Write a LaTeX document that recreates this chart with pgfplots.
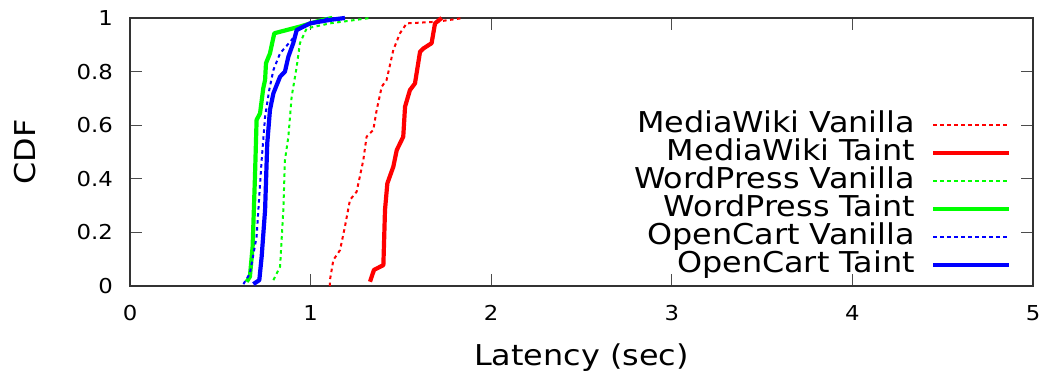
\documentclass[border=0pt]{standalone}
\usepackage{fontspec}
\setmainfont[FakeStretch=1.11]{DejaVu Sans}
\usepackage{pgfplots}
\pgfplotsset{compat=1.18}
\definecolor{gred}{RGB}{255,0,0}
\definecolor{ggreen}{RGB}{0,255,0}
\definecolor{gblue}{RGB}{0,0,255}
\begin{document}
\begin{tikzpicture}
\begin{axis}[
  scale only axis, width=903bp, height=268bp,
  xmin=0, xmax=5, ymin=0, ymax=1,
  xtick={0,1,2,3,4,5}, ytick={0,0.2,0.4,0.6,0.8,1},
  /pgf/number format/assume math mode=true,
  tick label style={font=\fontsize{20.6}{24}\selectfont, inner sep=0pt},
  xticklabel style={anchor=north, yshift=-19bp},
  yticklabel style={anchor=east, xshift=-17bp},
  major tick length=12bp,
  tick style={black!70, line width=1bp},
  axis line style={black!80, line width=1.3bp},
  every axis x label/.style={at={(axis description cs:0.5,-0.2985)}, anchor=base},
  every axis y label/.style={at={(axis description cs:-0.1052,0.5)}, anchor=base, rotate=90},
  label style={font=\fontsize{28.8}{30}\selectfont},
  xlabel={Latency (sec)}, ylabel={CDF},
  clip=false,
  legend plot pos=right,
  legend cell align=right,
  legend image code/.code={\draw[#1] (0bp,0bp) -- (76bp,0bp);},
  legend style={draw=none, fill=none, at={(rel axis cs:0.976,0.653)}, anchor=north east,
    font=\fontsize{28.8}{28}\selectfont, column sep=16bp, inner sep=0pt,
    nodes={inner sep=0pt, text height=21bp, text depth=7bp}},
  every axis plot/.append style={line join=round},
]
% MediaWiki Vanilla
\addplot[gred, line width=2bp, dash pattern=on 3.5bp off 3.5bp] coordinates {
(1.107,0.0) (1.107,0.022) (1.126,0.097) (1.163,0.134) (1.19,0.221) (1.218,0.321) (1.255,0.352)
(1.292,0.47) (1.31,0.557) (1.347,0.582) (1.366,0.657) (1.394,0.744) (1.421,0.769)
(1.458,0.881) (1.495,0.943) (1.532,0.98) (1.698,0.986) (1.846,1.0)};
\addlegendentry{MediaWiki Vanilla}
% MediaWiki Taint
\addplot[gred, line width=4.2bp] coordinates {
(1.329,0.016) (1.351,0.06) (1.403,0.078) (1.412,0.284) (1.425,0.383) (1.458,0.445)
(1.477,0.507) (1.513,0.557) (1.523,0.669) (1.55,0.731) (1.578,0.756) (1.606,0.874)
(1.624,0.886) (1.67,0.906) (1.689,0.98) (1.726,1.0)};
\addlegendentry{MediaWiki Taint}
% WordPress Vanilla
\addplot[ggreen, line width=2bp, dash pattern=on 3.5bp off 3.5bp] coordinates {
(0.794,0.022) (0.831,0.072) (0.849,0.284) (0.858,0.47) (0.877,0.557) (0.895,0.706)
(0.923,0.818) (0.941,0.906) (0.978,0.961) (1.107,0.98) (1.329,1.0)};
\addlegendentry{WordPress Vanilla}
% WordPress Taint
\addplot[ggreen, line width=4.2bp] coordinates {
(0.646,0.016) (0.664,0.035) (0.679,0.147) (0.692,0.408) (0.701,0.62) (0.72,0.644)
(0.738,0.738) (0.748,0.769) (0.753,0.831) (0.775,0.868) (0.799,0.943) (0.941,0.968)
(1.05,0.99) (1.12,1.0)};
\addlegendentry{WordPress Taint}
% OpenCart Vanilla
\addplot[gblue, line width=2bp, dash pattern=on 3.5bp off 3.5bp] coordinates {
(0.628,0.007) (0.664,0.047) (0.701,0.184) (0.729,0.47) (0.748,0.632) (0.771,0.731)
(0.794,0.806) (0.831,0.868) (0.895,0.918) (0.932,0.955) (1.0,0.98) (1.1,1.0)};
\addlegendentry{OpenCart Vanilla}
% OpenCart Taint
\addplot[gblue, line width=4.2bp] coordinates {
(0.683,0.007) (0.716,0.022) (0.729,0.109) (0.748,0.284) (0.76,0.532) (0.775,0.657)
(0.794,0.719) (0.831,0.781) (0.858,0.8) (0.877,0.856) (0.904,0.906) (0.923,0.955)
(0.997,0.98) (1.107,0.993) (1.19,1.0)};
\addlegendentry{OpenCart Taint}
\end{axis}
\pgfresetboundingbox
\useasboundingbox (-130bp,-90bp) rectangle (918bp,286bp);
\end{tikzpicture}
\end{document}
